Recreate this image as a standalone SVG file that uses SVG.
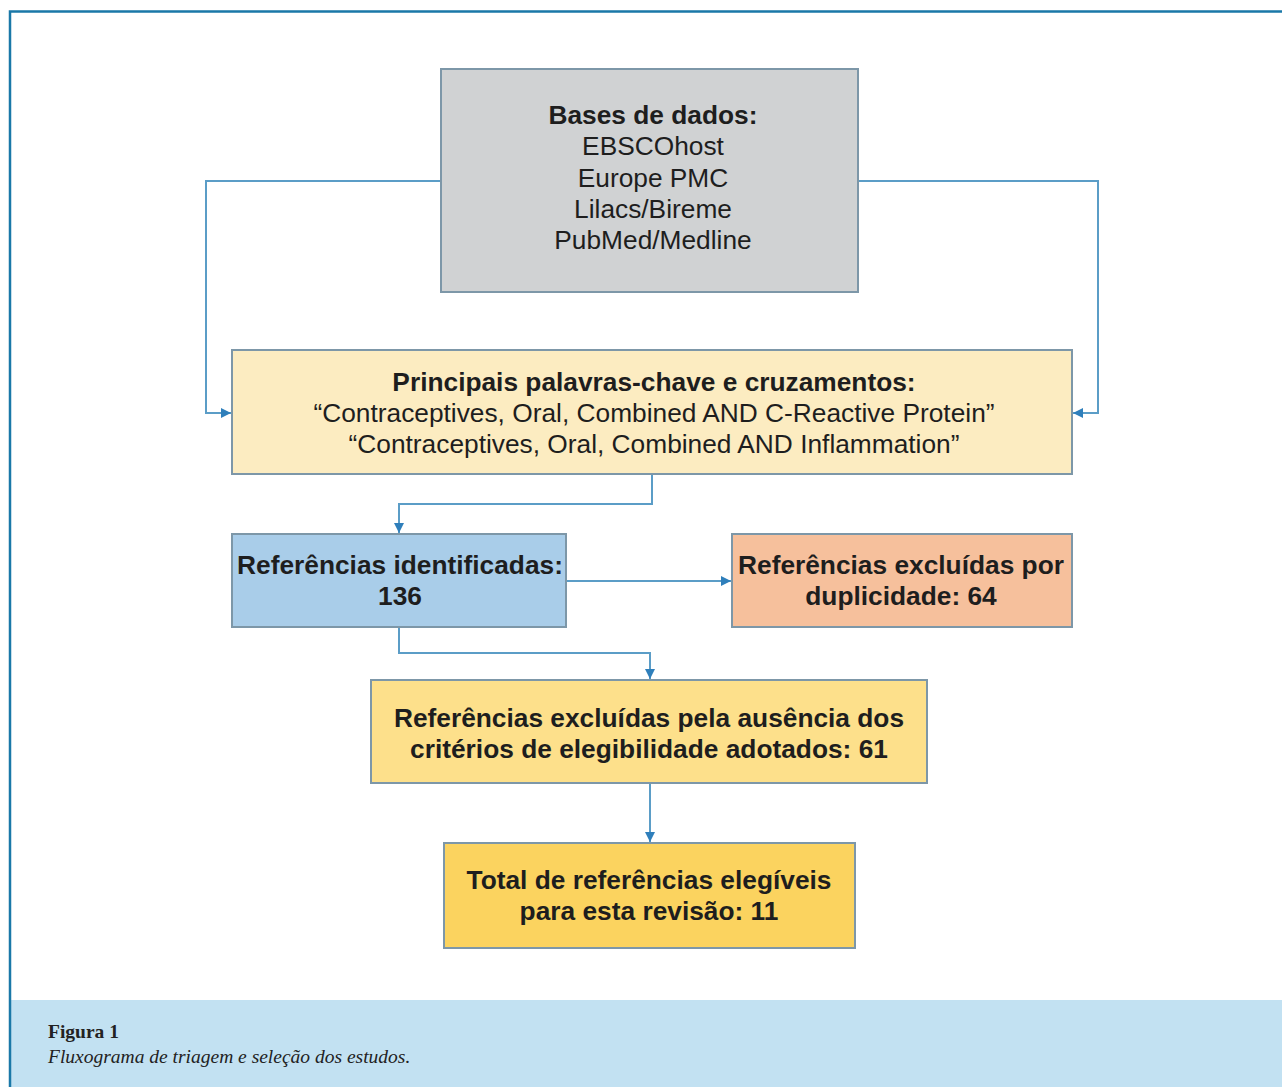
<svg xmlns="http://www.w3.org/2000/svg" width="1282" height="1087" viewBox="0 0 1282 1087">
<defs>
<style>
.box{stroke:#7d97a8;stroke-width:2}
.t{font-family:"Liberation Sans",Arial,sans-serif;font-size:26.3px;fill:#1e1e1e;text-anchor:middle}
.b{font-weight:bold}
.con{fill:none;stroke:#5b9dc7;stroke-width:2}
.cap{font-family:"Liberation Serif","Times New Roman",serif;font-size:19.5px;fill:#222}
</style>
<marker id="ah" viewBox="0 0 10 10" refX="10" refY="5" markerWidth="10" markerHeight="10" markerUnits="userSpaceOnUse" orient="auto">
<path d="M0,0 L10,5 L0,10 z" fill="#2f7fbb"/>
</marker>
</defs>
<rect x="0" y="0" width="1282" height="1087" fill="#ffffff"/>
<rect x="11" y="1000" width="1271" height="87" fill="#c2e1f2"/>
<path d="M10,1087 V11.5 H1282" fill="none" stroke="#1a78a8" stroke-width="2.5"/>
<g id="connectors">
<path class="con" d="M441,181 H206 V413 H231" marker-end="url(#ah)"/>
<path class="con" d="M858,181 H1098 V413 H1073" marker-end="url(#ah)"/>
<path class="con" d="M652,474 V504 H399 V533" marker-end="url(#ah)"/>
<path class="con" d="M566,581 H731" marker-end="url(#ah)"/>
<path class="con" d="M399,627 V653 H650 V679" marker-end="url(#ah)"/>
<path class="con" d="M650,783 V842" marker-end="url(#ah)"/>
</g>
<g id="n1">
<rect class="box" x="441" y="69" width="417" height="223" fill="#d0d2d3"/>
<text class="t b" x="653" y="124">Bases de dados:</text>
<text class="t" x="653" y="155">EBSCOhost</text>
<text class="t" x="653" y="187">Europe PMC</text>
<text class="t" x="653" y="218">Lilacs/Bireme</text>
<text class="t" x="653" y="249">PubMed/Medline</text>
</g>
<g id="n2">
<rect class="box" x="232" y="350" width="840" height="124" fill="#fcecc1"/>
<text class="t b" x="654" y="391">Principais palavras-chave e cruzamentos:</text>
<text class="t" x="654" y="422">“Contraceptives, Oral, Combined AND C-Reactive Protein”</text>
<text class="t" x="654" y="453">“Contraceptives, Oral, Combined AND Inflammation”</text>
</g>
<g id="n3">
<rect class="box" x="232" y="534" width="334" height="93" fill="#a9cde9"/>
<text class="t b" x="400" y="574">Referências identificadas:</text>
<text class="t b" x="400" y="605">136</text>
</g>
<g id="n4">
<rect class="box" x="732" y="534" width="340" height="93" fill="#f6c09c"/>
<text class="t b" x="901" y="574">Referências excluídas por</text>
<text class="t b" x="901" y="605">duplicidade: 64</text>
</g>
<g id="n5">
<rect class="box" x="371" y="680" width="556" height="103" fill="#fde08b"/>
<text class="t b" x="649" y="727">Referências excluídas pela ausência dos</text>
<text class="t b" x="649" y="758">critérios de elegibilidade adotados: 61</text>
</g>
<g id="n6">
<rect class="box" x="444" y="843" width="411" height="105" fill="#fbd35f"/>
<text class="t b" x="649" y="889">Total de referências elegíveis</text>
<text class="t b" x="649" y="920">para esta revisão: 11</text>
</g>
<text class="cap" x="48" y="1038" font-weight="bold" font-size="20px">Figura 1</text>
<text class="cap" x="48" y="1063" font-style="italic">Fluxograma de triagem e seleção dos estudos.</text>
</svg>
